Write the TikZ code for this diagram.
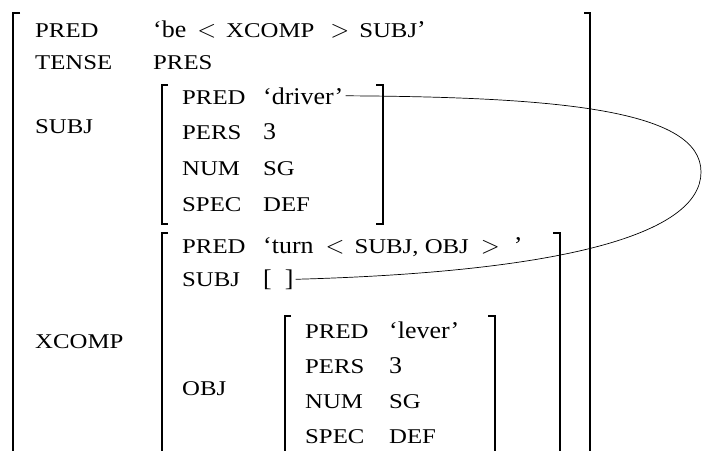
\documentclass[tikz,border=0pt]{standalone}
\usepackage{fontspec}
\setmainfont{Liberation Serif}
\newfontfamily\featfont[FakeStretch=1.18]{Liberation Serif}
\newfontfamily\valfont[FakeStretch=1.08]{Liberation Serif}
\usetikzlibrary{calc}

\newcommand{\fsc}[1]{{\featfont\fontsize{21}{25}\selectfont #1}}

\tikzset{
  attr/.style={anchor=base west,inner sep=0pt,font=\featfont\fontsize{21}{25}\selectfont},
  val/.style={anchor=base west,inner sep=0pt,font=\valfont\fontsize{24}{28}\selectfont},
  fbrack/.style={line width=1.3pt},
}

\begin{document}
\begin{tikzpicture}[x=1pt,y=-1pt]
      \useasboundingbox (0,0) rectangle (703,451);
      % outer brackets
      \draw[fbrack] (20,13) -| (13,451);
      \draw[fbrack] (584,13) -| (590,451);
      \node[attr] (pred) at (35,37) {PRED};
      \node[val] (predv) at (153,37) {‘be\hspace{11pt}$<$\hspace{10pt}\fsc{XCOMP}\hspace{16pt}$>$\hspace{10pt}\fsc{SUBJ}’};
      \node[attr] (tense) at (35,69) {TENSE};
      \node[attr] (tensev) at (153,69) {PRES};
      \node[attr] (subj) at (35,133) {SUBJ};
      \node[attr] (xcomp) at (35,348) {XCOMP};

      % SUBJ
      \draw[fbrack] (168,85) -| (162,224) -- (168,224);
      \draw[fbrack] (376,85) -| (383,224) -- (376,224);
      \node[attr] (spred) at (182,104) {PRED};
      \node[val] (drv) at (263,104) {‘driver’};
      \node[attr] (spers) at (182,139) {PERS};
      \node[val] (spersv) at (263,139) {3};
      \node[attr] (snum) at (182,175) {NUM};
      \node[attr] (snumv) at (263,175) {SG};
      \node[attr] (sspec) at (182,211) {SPEC};
      \node[attr] (sspecv) at (263,211) {DEF};

      % XCOMP
      \draw[fbrack] (168,233) -| (162,451);
      \draw[fbrack] (553,233) -| (560,451);
      \node[attr] (xpred) at (182,253) {PRED};
      \node[val] (xpredv) at (263,253) {‘turn\hspace{12pt}$<$\hspace{10pt}\fsc{SUBJ, OBJ}\hspace{12pt}$>$\hspace{14pt}’};
      \node[attr] (xsubj) at (182,286) {SUBJ};
      \node[val] (nil) at (263,286) {[\ \ ]};
      \node[attr] (xobj) at (182,395) {OBJ};

      % OBJ
      \draw[fbrack] (291,316) -| (285,451);
      \draw[fbrack] (488,316) -| (495,451);
      \node[attr] (opred) at (305,338) {PRED};
      \node[val] (opredv) at (389,338) {‘lever’};
      \node[attr] (opers) at (305,373) {PERS};
      \node[val] (opersv) at (389,373) {3};
      \node[attr] (onum) at (305,408) {NUM};
      \node[attr] (onumv) at (389,408) {SG};
      \node[attr] (ospec) at (305,443) {SPEC};
      \node[attr] (ospecv) at (389,443) {DEF};

      % structure sharing
      \coordinate (loop) at (701,172);
      \draw[line width=0.7pt] ([xshift=2pt]drv.east) .. controls (560,97) and (701,110) .. (loop)
            .. controls (701,235) and (560,272) .. ([xshift=2pt]nil.east);
\end{tikzpicture}
\end{document}
